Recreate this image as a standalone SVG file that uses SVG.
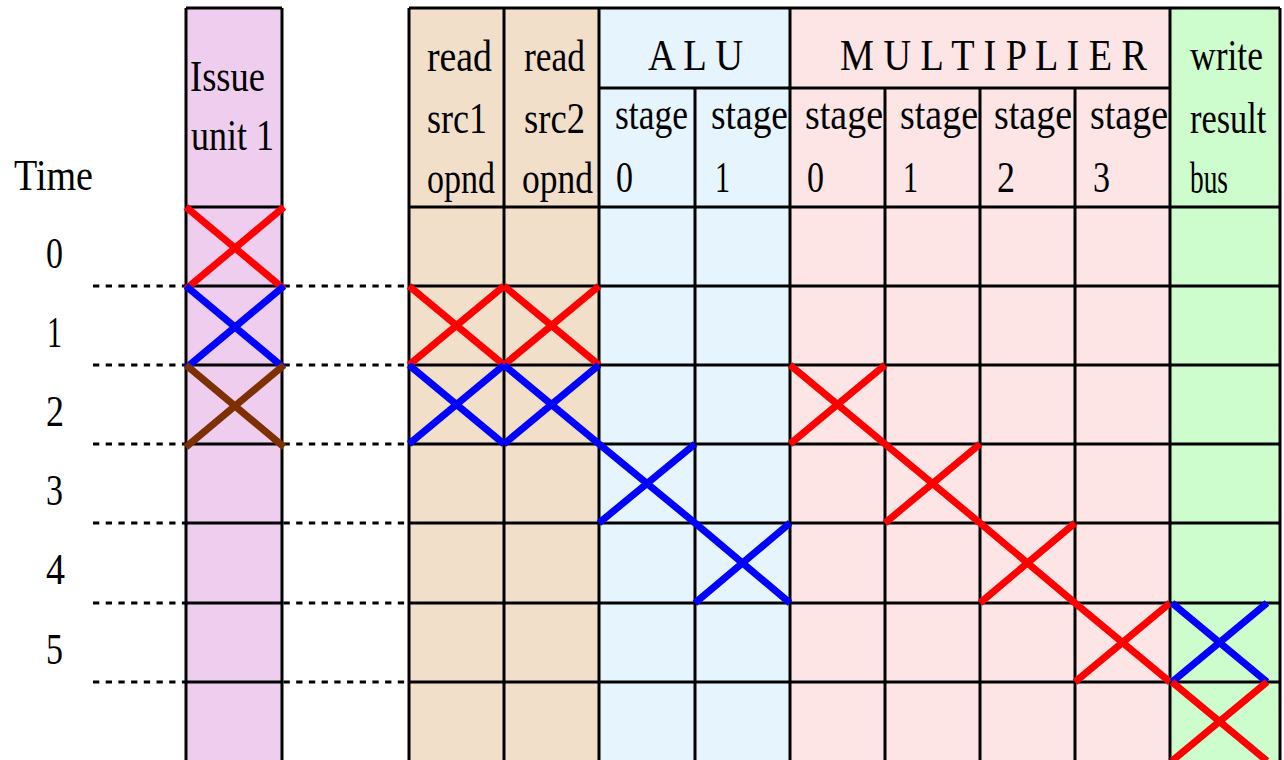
<svg xmlns="http://www.w3.org/2000/svg" width="1284" height="760" viewBox="0 0 1284 760">
<style>
text{font-family:"Liberation Serif","DejaVu Serif",serif;font-size:44px;fill:#000;}
.g{stroke:#000;stroke-width:3;fill:none;}
.dash{stroke:#000;stroke-width:3;stroke-dasharray:6.3 6.4;fill:none;}
.x{stroke-width:7;fill:none;stroke-linecap:butt;}
.r{stroke:#ff0000;}
.b{stroke:#0000ff;}
.br{stroke:#7f3000;}
</style>
<rect width="1284" height="760" fill="#fff"/>
<g id="guides">
<path class="dash" d="M93 286H409M93 365H409M93 444H409M93 523H409M93 603H409M93 682H409"/>
</g>
<g id="time-labels">
<text x="14" y="190" textLength="79" lengthAdjust="spacingAndGlyphs">Time</text>
<text x="46" y="268" textLength="17" lengthAdjust="spacingAndGlyphs">0</text>
<text x="47" y="347" textLength="15" lengthAdjust="spacingAndGlyphs">1</text>
<text x="46" y="426" textLength="18" lengthAdjust="spacingAndGlyphs">2</text>
<text x="46" y="505" textLength="17" lengthAdjust="spacingAndGlyphs">3</text>
<text x="46" y="584" textLength="19" lengthAdjust="spacingAndGlyphs">4</text>
<text x="46" y="664" textLength="17" lengthAdjust="spacingAndGlyphs">5</text>
</g>
<g id="issue-unit">
<rect x="186" y="8" width="96" height="760" fill="#efcdef"/>
<path class="g" d="M186 8V760M282 8V760M186 8H282M186 207H282M186 286H282M186 365H282M186 444H282M186 523H282M186 603H282M186 682H282"/>
<text x="190" y="91" textLength="75" lengthAdjust="spacingAndGlyphs">Issue</text>
<text x="191" y="150" textLength="83" lengthAdjust="spacingAndGlyphs">unit 1</text>
</g>
<g id="table">
<rect x="409" y="8" width="190" height="760" fill="#f2dfca"/>
<rect x="599" y="8" width="191" height="760" fill="#e6f4fd"/>
<rect x="790" y="8" width="380" height="760" fill="#fde5e5"/>
<rect x="1170" y="8" width="110" height="760" fill="#cdfdcd"/>
<path class="g" d="M409 8H1280M409 8V760M504 8V760M599 8V760M790 8V760M1170 8V760M1280 8V760M599 88H1170M695 88V760M885 88V760M980 88V760M1075 88V760M409 207H1280M409 286H1280M409 365H1280M409 444H1280M409 523H1280M409 603H1280M409 682H1280"/>
<text x="427" y="71" textLength="65" lengthAdjust="spacingAndGlyphs">read</text>
<text x="524" y="71" textLength="61" lengthAdjust="spacingAndGlyphs">read</text>
<text x="427" y="133" textLength="60" lengthAdjust="spacingAndGlyphs">src1</text>
<text x="524" y="133" textLength="61" lengthAdjust="spacingAndGlyphs">src2</text>
<text x="427" y="193" textLength="68" lengthAdjust="spacingAndGlyphs">opnd</text>
<text x="522" y="193" textLength="71" lengthAdjust="spacingAndGlyphs">opnd</text>
<text x="648" y="70" textLength="95" lengthAdjust="spacingAndGlyphs">A L U</text>
<text x="840" y="70" textLength="307" lengthAdjust="spacingAndGlyphs">M U L T I P L I E R</text>
<text x="615" y="129" textLength="73" lengthAdjust="spacingAndGlyphs">stage</text>
<text x="711" y="129" textLength="77" lengthAdjust="spacingAndGlyphs">stage</text>
<text x="805" y="129" textLength="78" lengthAdjust="spacingAndGlyphs">stage</text>
<text x="900" y="129" textLength="78" lengthAdjust="spacingAndGlyphs">stage</text>
<text x="994" y="129" textLength="78" lengthAdjust="spacingAndGlyphs">stage</text>
<text x="1090" y="129" textLength="78" lengthAdjust="spacingAndGlyphs">stage</text>
<text x="616" y="192" textLength="17" lengthAdjust="spacingAndGlyphs">0</text>
<text x="715" y="192" textLength="15" lengthAdjust="spacingAndGlyphs">1</text>
<text x="807" y="192" textLength="17" lengthAdjust="spacingAndGlyphs">0</text>
<text x="903" y="192" textLength="15" lengthAdjust="spacingAndGlyphs">1</text>
<text x="997" y="192" textLength="18" lengthAdjust="spacingAndGlyphs">2</text>
<text x="1093" y="192" textLength="17" lengthAdjust="spacingAndGlyphs">3</text>
<text x="1190" y="70" textLength="73" lengthAdjust="spacingAndGlyphs">write</text>
<text transform="translate(1190 133) scale(0.78 1)">result</text>
<text x="1190" y="193" textLength="38" lengthAdjust="spacingAndGlyphs">bus</text>
</g>
<g id="marks">
<path class="x r" d="M186 207L284 289M284 207L186 289"/>
<path class="x b" d="M186 286L284 368M284 286L186 368"/>
<path class="x br" d="M186 365L284 447M284 365L186 447"/>
<path class="x r" d="M409 286L504 365M504 286L409 365M504 286L599 365M599 286L504 365"/>
<path class="x b" d="M409 365L504 444M504 365L409 444M504 365L599 444M599 365L504 444"/>
<path class="x b" d="M599 444L695 523M695 444L599 523"/>
<path class="x b" d="M695 523L790 603M790 523L695 603"/>
<path class="x r" d="M790 365L885 444M885 365L790 444"/>
<path class="x r" d="M885 444L980 523M980 444L885 523"/>
<path class="x r" d="M980 523L1075 603M1075 523L980 603"/>
<path class="x r" d="M1075 603L1170 682M1170 603L1075 682"/>
<path class="x b" d="M1172 603L1267 682M1267 603L1172 682"/>
<path class="x r" d="M1172 682L1267 761M1267 682L1172 761"/>
</g>
</svg>
